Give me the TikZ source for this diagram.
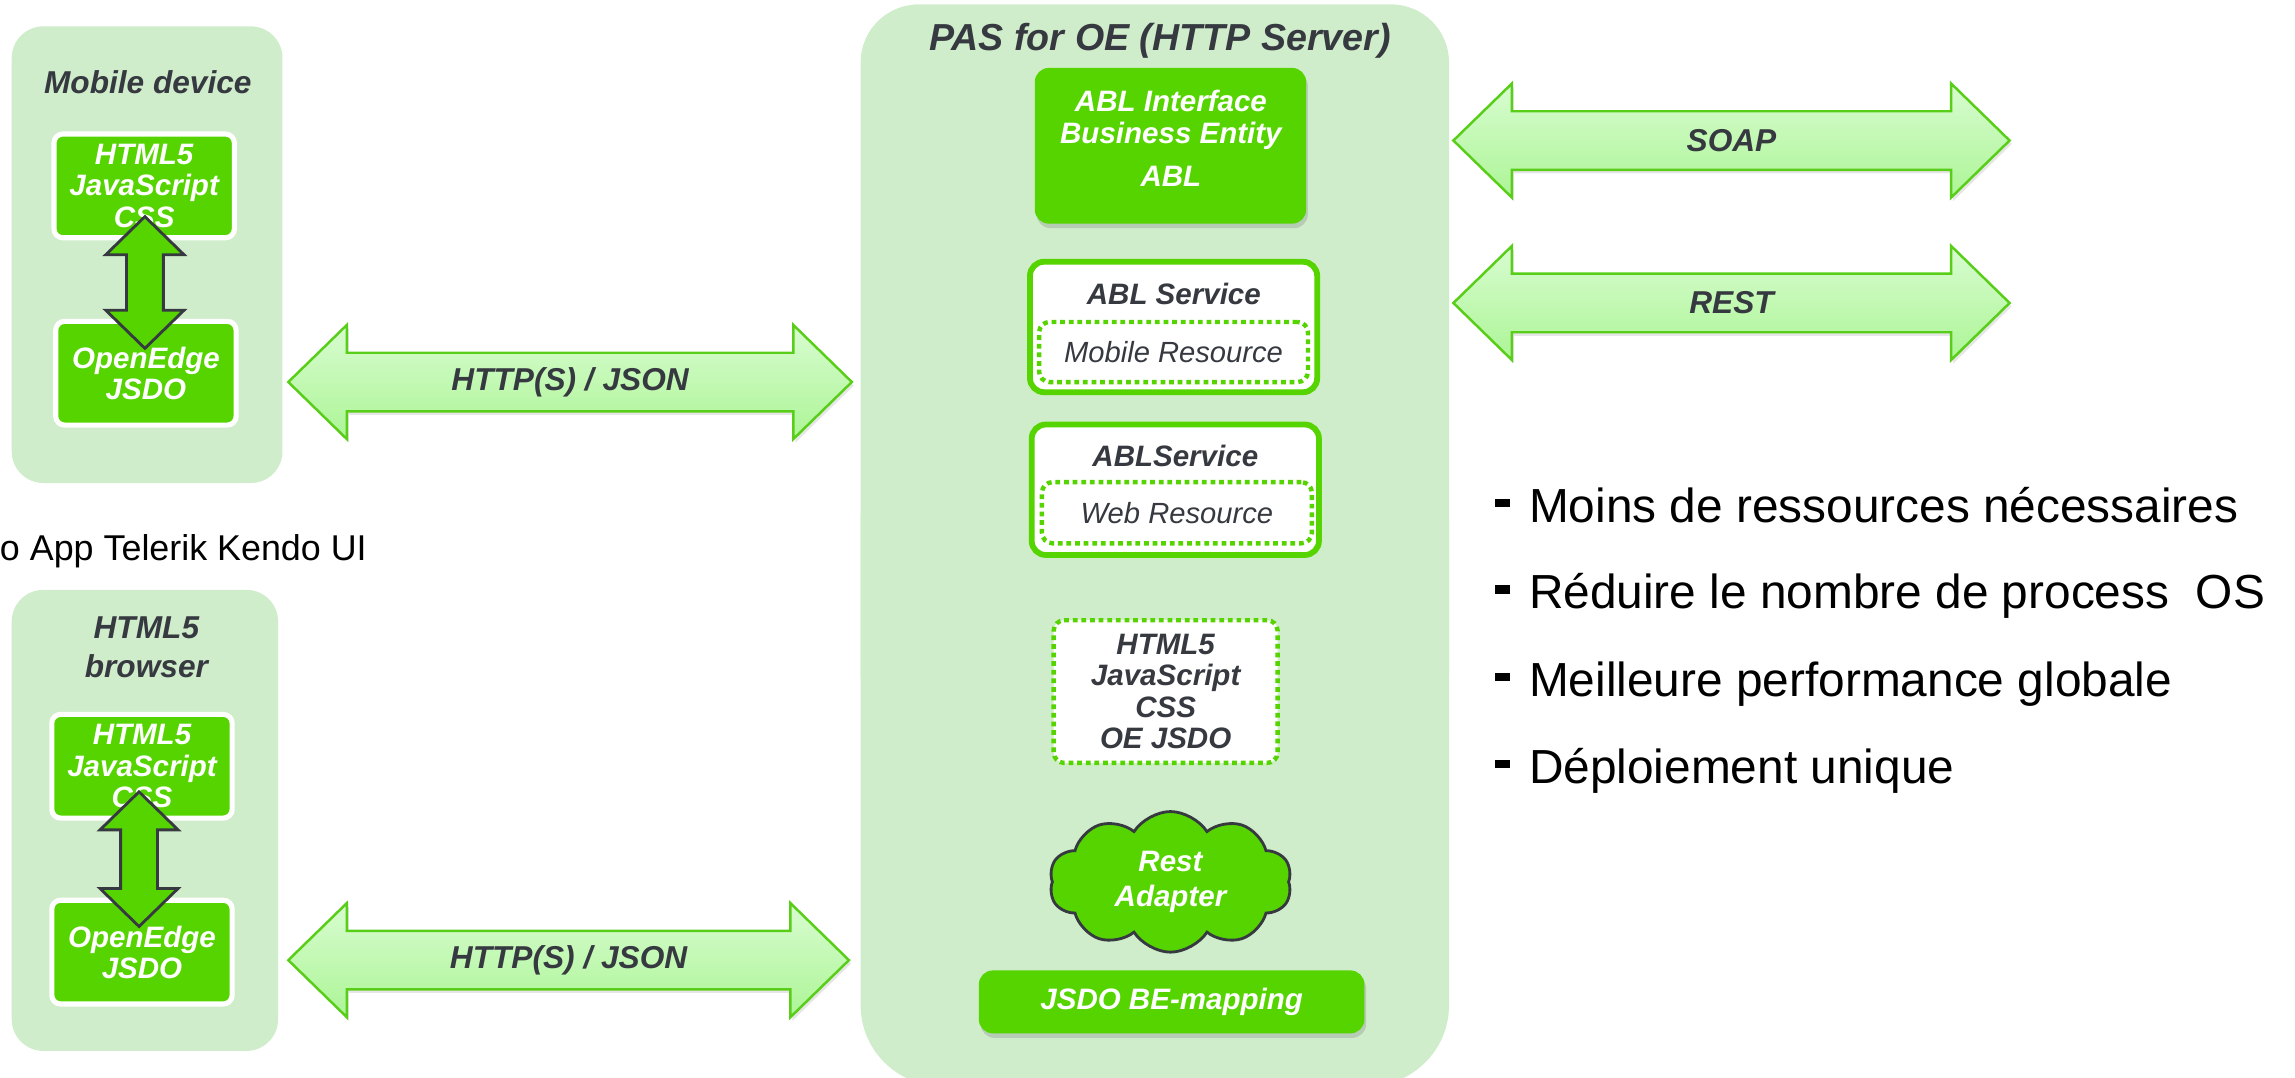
\documentclass[tikz,border=0pt]{standalone}
\usepackage{fontspec}
\setmainfont{Liberation Sans}
\usetikzlibrary{shapes.symbols,shadows}

\definecolor{oegreen}{RGB}{85,212,0}
\definecolor{panelgreen}{RGB}{208,237,203}
\definecolor{inkgray}{RGB}{54,58,64}
\definecolor{arrowtop}{RGB}{216,252,208}
\definecolor{arrowbot}{RGB}{172,245,150}
\definecolor{arrowline}{RGB}{88,206,24}

\begin{document}
\begin{tikzpicture}[x=0.014636cm,y=-0.014636cm,
  panel/.style={fill=panelgreen},
  paneltitle/.style={text=inkgray,font=\fontsize{9}{11}\selectfont\bfseries\itshape,align=center,inner sep=0pt},
  greenbox/.style={fill=oegreen,draw=white,line width=1.45pt,rounded corners=2.5pt,text=white,
    font=\fontsize{8.4}{8.9}\selectfont\bfseries\itshape,align=center,
    minimum width=51.3pt,minimum height=29.5pt,inner sep=0pt},
  solidbox/.style={fill=oegreen,rounded corners=4pt,text=white,
    drop shadow={shadow xshift=0.5pt,shadow yshift=-1.3pt,opacity=0.3},
    font=\fontsize{8.4}{9.2}\selectfont\bfseries\itshape,align=center,inner sep=0pt},
  boxtext/.style={text=white,font=\fontsize{8.4}{9.2}\selectfont\bfseries\itshape,align=center,inner sep=0pt},
  svcbox/.style={fill=white,draw=oegreen,line width=1.65pt,rounded corners=4pt,
    minimum width=81.7pt,minimum height=37.1pt,inner sep=0pt},
  svctitle/.style={text=inkgray,font=\fontsize{8.4}{8.9}\selectfont\bfseries\itshape,align=center,inner sep=0pt},
  dotbox/.style={fill=white,draw=oegreen,line width=1.25pt,dash pattern=on 1.35pt off 1.1pt,
    rounded corners=3pt,inner sep=0pt,text=inkgray,align=center},
  bigarrow/.style={draw=arrowline,line width=0.7pt,top color=arrowtop,bottom color=arrowbot,
    drop shadow={shadow xshift=0.6pt,shadow yshift=-1pt,opacity=0.2}},
  arrowtext/.style={text=inkgray,font=\fontsize{9}{11}\selectfont\bfseries\itshape,inner sep=0pt},
  updown/.style={draw=inkgray,line width=0.8pt,fill=oegreen,line join=miter},
  bullet/.style={anchor=base west,inner sep=0pt,font=\fontsize{13.6}{16}\selectfont}]

\clip (0,0) rectangle (1568,736);

% panels
\path[panel,rounded corners=9pt] (8,18) rectangle (193,330);
\path[panel,rounded corners=9pt] (8,403) rectangle (190,718);
\path[panel,rounded corners=16.5pt] (588,3) rectangle (990,500);
\path[panel,rounded corners=23pt] (588,300) rectangle (990,742);

% mobile device
\node[paneltitle] (mobtitle) at (101,56) {Mobile device};
\node[greenbox] (mobweb) at (98.5,127) {HTML5\\JavaScript\\CSS};
\node[greenbox] (mobjsdo) at (99.7,255) {OpenEdge\\JSDO};

\node[anchor=base west,inner sep=0pt,font=\fontsize{10.2}{12}\selectfont] (kendo) at (-0.5,383) {o App Telerik Kendo UI};

% html5 browser
\node[paneltitle] (brtitle) at (100,442) {HTML5\\browser};
\node[greenbox] (brweb) at (97,523.5) {HTML5\\JavaScript\\CSS};
\node[greenbox] (brjsdo) at (97,650.5) {OpenEdge\\JSDO};

\foreach \xc/\ya/\yb in {99/148/238, 95/541/633}{
  \path[updown] (\xc,\ya) -- ({\xc+26.7},{\ya+26}) -- ({\xc+12.6},{\ya+26}) -- ({\xc+12.6},{\yb-26})
    -- ({\xc+26.7},{\yb-26}) -- (\xc,\yb) -- ({\xc-26.7},{\yb-26}) -- ({\xc-12.6},{\yb-26})
    -- ({\xc-12.6},{\ya+26}) -- ({\xc-26.7},{\ya+26}) -- cycle;
}

% PAS for OE
\node[text=inkgray,font=\fontsize{10.7}{13}\selectfont\bfseries\itshape,inner sep=0pt] (pastitle) at (792.6,28) {PAS for OE (HTTP Server)};
\node[solidbox,minimum width=77.2pt,minimum height=44.3pt] (ablbe) at (799.7,99.6) {};
\node[boxtext] (abltext) at (800,94.6) {ABL Interface\\Business Entity\\[3pt]ABL};

\node[svcbox] (svcmob) at (801.8,223.4) {};
\node[svctitle] (svcmobname) at (802,200.6) {ABL Service};
\node[dotbox,minimum width=76.5pt,minimum height=17.1pt,font=\fontsize{8.3}{9}\selectfont\itshape] (mobres) at (801.8,240.5) {Mobile Resource};

\node[svcbox] (svcweb) at (803,334.6) {};
\node[svctitle] (svcwebname) at (803,311.5) {ABLService};
\node[dotbox,minimum width=76.8pt,minimum height=17.4pt,font=\fontsize{8.3}{9}\selectfont\itshape] (webres) at (804.1,350.3) {Web Resource};

\node[dotbox,minimum width=63.7pt,minimum height=40.6pt,font=\fontsize{8.4}{8.9}\selectfont\bfseries\itshape] (webapp) at (796.4,472.5) {HTML5\\JavaScript\\CSS\\OE JSDO};

\node[cloud,cloud puffs=10,cloud puff arc=115,aspect=1.5,draw=inkgray,line width=0.8pt,fill=oegreen,
  minimum width=69pt,minimum height=40pt,inner sep=0pt,text=white,align=center,
  font=\fontsize{8.4}{9.8}\selectfont\bfseries\itshape] (restad) at (799.7,602.5) {Rest\\Adapter};

\node[solidbox,minimum width=109.7pt,minimum height=17.9pt] (bemap) at (800.5,684.5) {JSDO BE-mapping};

% block arrows
\foreach \nm/\xa/\xb/\yc/\txt in {http1/197/582/261/{HTTP(S) / JSON}, http2/197/580/656/{HTTP(S) / JSON},
    soap/993/1373/96/SOAP, rest/993/1373/207/REST}{
  \path[bigarrow] (\xa,\yc) -- ({\xa+40},{\yc-39}) -- ({\xa+40},{\yc-20}) -- ({\xb-40},{\yc-20})
    -- ({\xb-40},{\yc-39}) -- (\xb,\yc) -- ({\xb-40},{\yc+39}) -- ({\xb-40},{\yc+20})
    -- ({\xa+40},{\yc+20}) -- ({\xa+40},{\yc+39}) -- cycle;
  \node[arrowtext] (\nm) at ({(\xa+\xb)/2},\yc) {\txt};
}

% benefits
\node[bullet] (b1) at (1021,357) {\rule[0.32em]{0.31em}{0.17em}\hspace{0.4em}Moins de ressources nécessaires};
\node[bullet] (b2) at (1021,416) {\rule[0.32em]{0.31em}{0.17em}\hspace{0.4em}Réduire le nombre de process~ OS};
\node[bullet] (b3) at (1021,476) {\rule[0.32em]{0.31em}{0.17em}\hspace{0.4em}Meilleure performance globale};
\node[bullet] (b4) at (1021,535) {\rule[0.32em]{0.31em}{0.17em}\hspace{0.4em}Déploiement unique};

\end{tikzpicture}
\end{document}
